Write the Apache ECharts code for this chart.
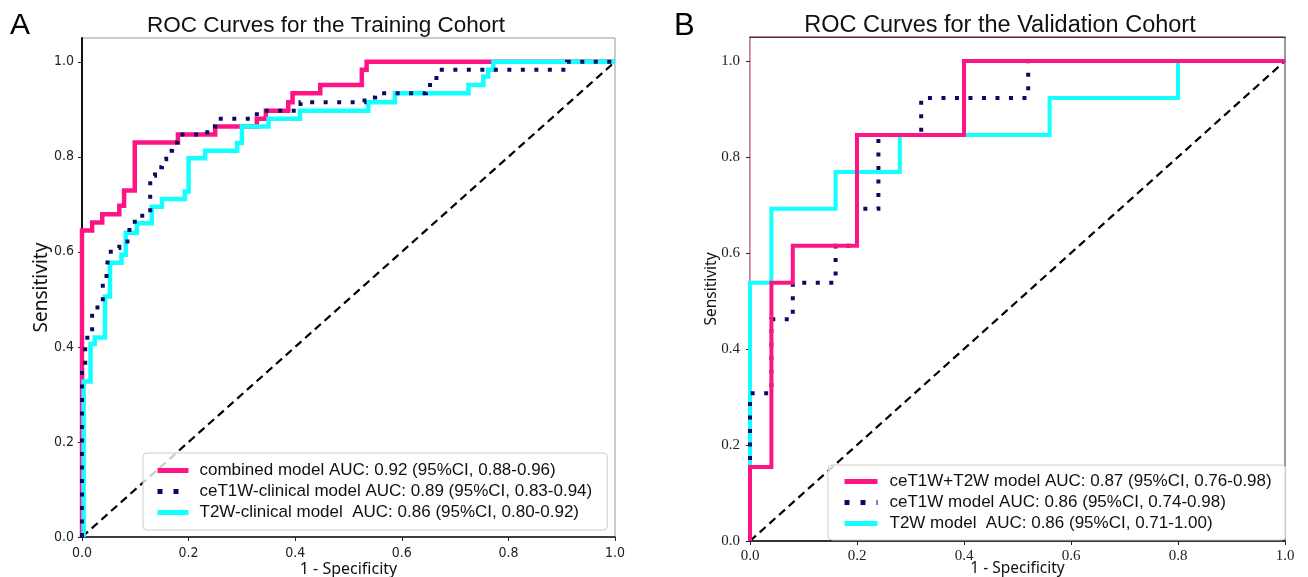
<!DOCTYPE html>
<html>
<head>
	<meta charset="utf-8">
	<title>ROC Curves</title>
	<script src="https://cdn.jsdelivr.net/npm/echarts@6/dist/echarts.min.js"></script>
	<style>
		html, body { margin: 0; padding: 0; background: #fff; }
		#main { width: 1308px; height: 577px; }
	</style>
</head>
<body>
<div id="main"></div>
<script>
	// tick positions shared by both panels
	var tickValues = [0, 0.2, 0.4, 0.6, 0.8, 1.0];

	// Training cohort (panel A)
	var trainCombinedX = [0, 0, 0.019, 0.019, 0.038, 0.038, 0.070, 0.070, 0.079, 0.079, 0.099, 0.099, 0.180, 0.180, 0.250, 0.250, 0.328, 0.328, 0.345, 0.345, 0.387, 0.387, 0.395, 0.395, 0.447, 0.447, 0.525, 0.525, 0.534, 0.534, 1.0];
	var trainCombinedY = [0, 0.645, 0.645, 0.662, 0.662, 0.679, 0.679, 0.697, 0.697, 0.729, 0.729, 0.830, 0.830, 0.847, 0.847, 0.864, 0.864, 0.880, 0.880, 0.897, 0.897, 0.915, 0.915, 0.934, 0.934, 0.951, 0.951, 0.983, 0.983, 1.0, 1.0];

	var trainT1X = [0, 0, 0.006, 0.006, 0.010, 0.010, 0.019, 0.019, 0.029, 0.029, 0.039, 0.039, 0.046, 0.046, 0.049, 0.049, 0.054, 0.054, 0.070, 0.070, 0.089, 0.089, 0.099, 0.099, 0.128, 0.128, 0.137, 0.137, 0.150, 0.150, 0.158, 0.158, 0.169, 0.169, 0.179, 0.179, 0.235, 0.235, 0.250, 0.250, 0.328, 0.328, 0.410, 0.410, 0.530, 0.530, 0.550, 0.550, 0.645, 0.645, 0.660, 0.660, 0.675, 0.675, 0.910, 0.910, 1.0];
	var trainT1Y = [0, 0.345, 0.345, 0.410, 0.410, 0.430, 0.430, 0.475, 0.475, 0.495, 0.495, 0.540, 0.540, 0.560, 0.560, 0.588, 0.588, 0.608, 0.608, 0.622, 0.622, 0.659, 0.659, 0.676, 0.676, 0.760, 0.760, 0.778, 0.778, 0.795, 0.795, 0.813, 0.813, 0.830, 0.830, 0.847, 0.847, 0.864, 0.864, 0.880, 0.880, 0.897, 0.897, 0.915, 0.915, 0.925, 0.925, 0.934, 0.934, 0.951, 0.951, 0.966, 0.966, 0.983, 0.983, 1.0, 1.0];

	var trainT2X = [0.003, 0.003, 0.016, 0.016, 0.024, 0.024, 0.043, 0.043, 0.0525, 0.0525, 0.074, 0.074, 0.082, 0.082, 0.103, 0.103, 0.131, 0.131, 0.150, 0.150, 0.193, 0.193, 0.200, 0.200, 0.231, 0.231, 0.291, 0.291, 0.300, 0.300, 0.350, 0.350, 0.409, 0.409, 0.537, 0.537, 0.587, 0.587, 0.725, 0.725, 0.753, 0.753, 0.762, 0.762, 0.772, 0.772, 1.0];
	var trainT2Y = [0, 0.327, 0.327, 0.406, 0.406, 0.420, 0.420, 0.506, 0.506, 0.577, 0.577, 0.594, 0.594, 0.640, 0.640, 0.660, 0.660, 0.695, 0.695, 0.711, 0.711, 0.727, 0.727, 0.797, 0.797, 0.813, 0.813, 0.829, 0.829, 0.864, 0.864, 0.880, 0.880, 0.897, 0.897, 0.915, 0.915, 0.934, 0.934, 0.951, 0.951, 0.969, 0.969, 0.983, 0.983, 1.0, 1.0];

	// Validation cohort (panel B)
	var validCombinedX = [0, 0, 0.04, 0.04, 0.08, 0.08, 0.20, 0.20, 0.40, 0.40, 1.0];
	var validCombinedY = [0, 0.154, 0.154, 0.538, 0.538, 0.615, 0.615, 0.846, 0.846, 1.0, 1.0];

	var validT1X = [0, 0, 0.04, 0.04, 0.08, 0.08, 0.16, 0.16, 0.20, 0.20, 0.24, 0.24, 0.32, 0.32, 0.52, 0.52, 1.0];
	var validT1Y = [0, 0.308, 0.308, 0.462, 0.462, 0.538, 0.538, 0.615, 0.615, 0.692, 0.692, 0.846, 0.846, 0.923, 0.923, 1.0, 1.0];

	var validT2X = [0, 0, 0.04, 0.04, 0.16, 0.16, 0.28, 0.28, 0.56, 0.56, 0.80, 0.80, 1.0];
	var validT2Y = [0, 0.538, 0.538, 0.692, 0.692, 0.769, 0.769, 0.846, 0.846, 0.923, 0.923, 1.0, 1.0];

	var chanceX = [0, 1];
	var chanceY = [0, 1];

	var namesA = ['combined model AUC: 0.92 (95%CI, 0.88-0.96)',
		'ceT1W-clinical model AUC: 0.89 (95%CI, 0.83-0.94)',
		'T2W-clinical model  AUC: 0.86 (95%CI, 0.80-0.92)'];
	var namesB = ['ceT1W+T2W model AUC: 0.87 (95%CI, 0.76-0.98)',
		'ceT1W model AUC: 0.86 (95%CI, 0.74-0.98)',
		'T2W model  AUC: 0.86 (95%CI, 0.71-1.00)'];

	var PINK = '#ff1485', NAVY = '#0a0a66', CYAN = '#14ffff';
	var NARROW = '"Liberation Sans Narrow", "DejaVu Sans Condensed", sans-serif';

	function zip(xs, ys) {
		var out = [];
		for (var i = 0; i < xs.length; i++) out.push([xs[i], ys[i]]);
		return out;
	}

	function curve(name, xs, ys, axis, color, width, z, dotted) {
		return {
			name: name,
			type: 'line',
			xAxisIndex: axis,
			yAxisIndex: axis,
			data: zip(xs, ys),
			symbol: 'none',
			z: z,
			silent: true,
			lineStyle: {
				color: color,
				width: width,
				type: dotted ? [4, 9.5] : 'solid',
				cap: 'butt',
				join: 'miter'
			},
			itemStyle: { color: color }
		};
	}

	function chance(axis) {
		return {
			name: 'chance',
			type: 'line',
			xAxisIndex: axis,
			yAxisIndex: axis,
			data: zip(chanceX, chanceY),
			symbol: 'none',
			z: 1,
			silent: true,
			lineStyle: { color: '#000', width: 2.2, type: [8, 5] }
		};
	}

	var tickFmt = function (v) { return v.toFixed(1); };

	function xAx(grid, fontFamily, fontSize, margin, nameSize, nameGap) {
		return {
			type: 'value', gridIndex: grid, min: 0, max: 1,
			name: '1 - Specificity', nameLocation: 'middle', nameGap: nameGap, nameMoveOverlap: false,
			nameTextStyle: { fontFamily: 'Noto Sans', fontSize: nameSize, color: '#111' },
			axisLine: { lineStyle: { color: '#111', width: 1.5 } },
			axisTick: { show: true, length: 4, inside: false, customValues: tickValues, lineStyle: { color: '#222' } },
			axisLabel: { customValues: tickValues, formatter: tickFmt, fontFamily: fontFamily, fontSize: fontSize, color: '#222', margin: margin },
			splitLine: { show: false }
		};
	}

	function yAx(grid, fontFamily, fontSize, margin, nameSize, nameGap, lineColor, lineWidth) {
		return {
			type: 'value', gridIndex: grid, min: 0, max: 1.05,
			name: 'Sensitivity', nameLocation: 'middle', nameGap: nameGap, nameMoveOverlap: false,
			nameTextStyle: { fontFamily: 'Noto Sans', fontSize: nameSize, color: '#111' },
			axisLine: { show: true, lineStyle: { color: lineColor, width: lineWidth } },
			axisTick: { show: true, length: 4, inside: false, customValues: tickValues, lineStyle: { color: '#222' } },
			axisLabel: { customValues: tickValues, formatter: tickFmt, fontFamily: fontFamily, fontSize: fontSize, color: '#222', margin: margin },
			splitLine: { show: false }
		};
	}

	function legendBox(left, top, names, fontSize, textGap, itemWidth, itemGap, pad) {
		var items = names.map(function (n, i) {
			return { name: n, lineStyle: i === 1 ? { width: 5, type: [5, 11] } : { width: 5 } };
		});
		return {
			orient: 'vertical',
			left: left, top: top,
			data: items,
			itemWidth: itemWidth,
			itemHeight: 12,
			itemGap: itemGap,
			padding: pad,
			// hide the marker dot, keep only the line sample
			itemStyle: { opacity: 0 },
			backgroundColor: 'rgba(255,255,255,0.8)',
			borderColor: '#ccc',
			borderWidth: 1,
			borderRadius: 4,
			selectedMode: false,
			textStyle: { fontFamily: 'Liberation Sans', fontSize: fontSize, color: '#111', padding: [0, 0, 0, textGap], lineHeight: 17 }
		};
	}

	var chart = echarts.init(document.getElementById('main'), null, { renderer: 'canvas' });

	var option = {
		animation: false,
		backgroundColor: '#fff',
		title: [
			{ text: 'A', left: 5, top: 6, textStyle: { fontFamily: 'Liberation Sans', fontSize: 30, fontWeight: 'normal', color: '#000' } },
			{ text: 'B', left: 669, top: 6, textStyle: { fontFamily: 'Liberation Sans', fontSize: 31, fontWeight: 'normal', color: '#000' } },
			{ text: 'ROC Curves for the Training Cohort', left: 321, top: 9, textAlign: 'center',
				textStyle: { fontFamily: 'Liberation Sans', fontSize: 22.5, fontWeight: 'normal', color: '#111' } },
			{ text: 'ROC Curves for the Validation Cohort', left: 995, top: 9, textAlign: 'center',
				textStyle: { fontFamily: 'Liberation Sans', fontSize: 23.5, fontWeight: 'normal', color: '#111' } }
		],
		legend: [
			legendBox(143, 453, namesA, 17, 6, 31, 4, [9, 15, 9, 12]),
			legendBox(828, 465, namesB, 17, 7, 33, 4, [8, 14, 8, 14])
		],
		grid: [
			{ left: 82, top: 38, width: 533, height: 499, outerBoundsMode: 'none', containLabel: false,
				show: true, borderColor: '#999', borderWidth: 1, backgroundColor: 'transparent' },
			{ left: 750, top: 37, width: 535, height: 504, outerBoundsMode: 'none', containLabel: false,
				show: true, borderColor: '#777', borderWidth: 1.5, backgroundColor: 'transparent' }
		],
		xAxis: [
			xAx(0, NARROW, 14, 9, 16, 24),
			xAx(1, 'Liberation Serif', 15, 8, 15.5, 20),
			// top spine of panel B
			{ type: 'value', gridIndex: 1, position: 'top', min: 0, max: 1,
				axisLine: { lineStyle: { color: '#6a1838', width: 1 } }, axisTick: { show: false }, axisLabel: { show: false }, splitLine: { show: false } }
		],
		yAxis: [
			yAx(0, NARROW, 14, 8, 19, 31, '#111', 2),
			yAx(1, 'Liberation Serif', 15, 10, 15.5, 30, '#ff8cbc', 1)
		],
		series: [
			chance(0),
			curve(namesA[0], trainCombinedX, trainCombinedY, 0, PINK, 4.5, 2, false),
			curve(namesA[1], trainT1X, trainT1Y, 0, NAVY, 4, 4, true),
			curve(namesA[2], trainT2X, trainT2Y, 0, CYAN, 4.5, 3, false),
			chance(1),
			curve(namesB[0], validCombinedX, validCombinedY, 1, PINK, 4, 4, false),
			curve(namesB[1], validT1X, validT1Y, 1, NAVY, 4, 3, true),
			curve(namesB[2], validT2X, validT2Y, 1, CYAN, 4, 2, false)
		]
	};

	option && chart.setOption(option);
</script>
</body>
</html>
